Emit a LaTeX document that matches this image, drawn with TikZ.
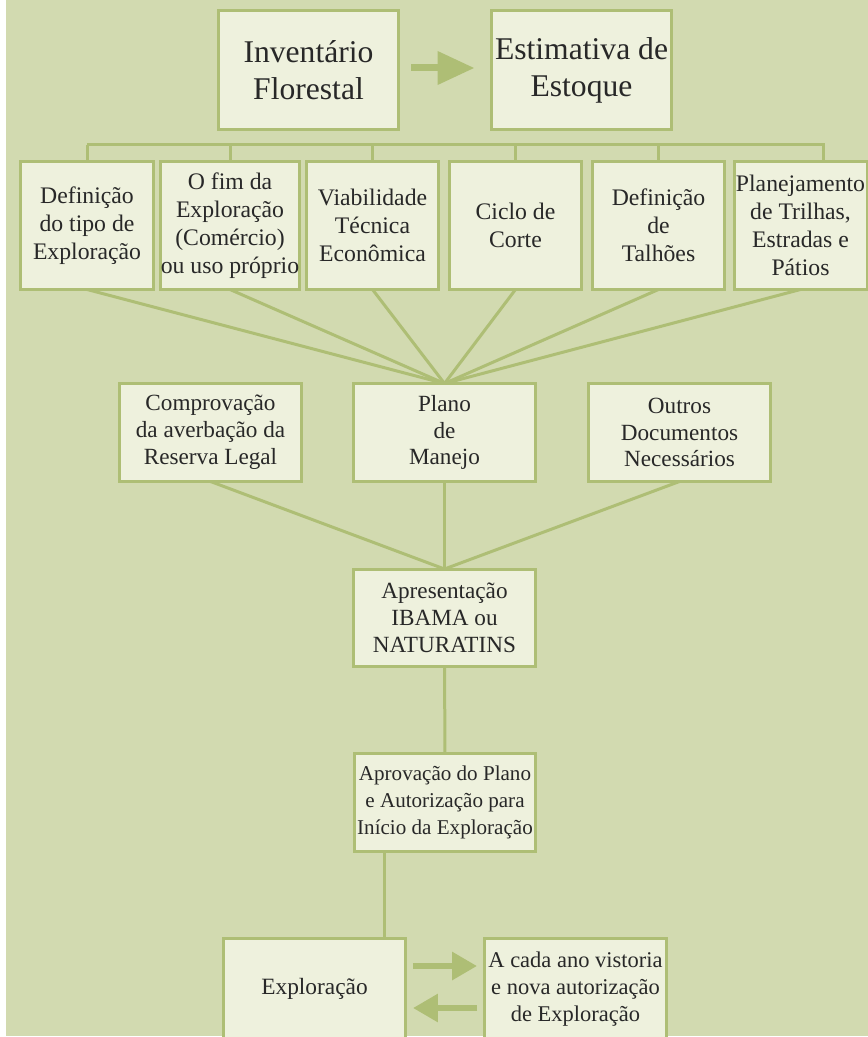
\documentclass[tikz,border=0pt]{standalone}
\usepackage{fontspec}
\setmainfont{Liberation Serif}
\definecolor{mossbg}{RGB}{210,218,176}
\definecolor{mossfill}{RGB}{238,241,221}
\definecolor{mossline}{RGB}{174,190,117}
\definecolor{inkgray}{RGB}{40,40,40}
\usetikzlibrary{arrows.meta}
\tikzset{
  box/.style={draw=mossline, fill=mossfill, line width=0.06cm, inner sep=0pt,
    outer sep=0pt, align=center, text=inkgray},
  topbox/.style={box, minimum width=3.62cm, minimum height=2.38cm,
    font=\fontsize{18pt}{21pt}\selectfont},
  rowbox/.style={box, minimum width=2.66cm, minimum height=2.56cm,
    font=\fontsize{13.5pt}{16pt}\selectfont},
  midbox/.style={box, minimum width=3.64cm, minimum height=1.96cm,
    font=\fontsize{13.2pt}{15.3pt}\selectfont},
  lowbox/.style={box, minimum width=3.64cm, minimum height=2.02cm,
    font=\fontsize{12.8pt}{15.3pt}\selectfont},
  link/.style={draw=mossline, line width=0.06cm},
  fatarrow/.style={draw=mossline, line width=0.14cm,
    -{Triangle[width=0.64cm,length=0.74cm]}, shorten <=0.25cm, shorten >=0.33cm},
  slimarrow/.style={draw=mossline, line width=0.12cm,
    -{Triangle[width=0.54cm,length=0.5cm]}, shorten <=0.15cm, shorten >=0.15cm}
}

\begin{document}
\begin{tikzpicture}[x=0.02cm, y=-0.02cm]
  \clip (0,0) rectangle (868,1037);
  \fill[mossbg] (6,0) rectangle (868,1036);

  % inventory and stock
  \node[topbox] (inv) at (308.5,70) {Inventário\\Florestal};
  \node[topbox] (est) at (581.5,70) {Estimativa de\\Estoque};
  \draw[fatarrow] (inv.east |- 0,68) -- (est.west |- 0,68);

  % planning steps
  \foreach \i/\x/\t in {1/87/{Definição\\do tipo de\\Exploração},
      2/230/{O fim da\\Exploração\\(Comércio)\\ou uso próprio},
      3/372.5/{Viabilidade\\Técnica\\Econômica},
      4/515.5/{Ciclo de\\Corte},
      5/658.5/{Definição\\de\\Talhões},
      6/800.5/{Planejamento\\de Trilhas,\\Estradas e\\Pátios}} {
    \node[rowbox] (r\i) at (\x,225.5) {\t};
  }
  \coordinate (brk) at (823,145);
  \draw[link] (r1.north |- brk) -- (brk) -- (r6.north -| brk);
  \foreach \i in {1,...,5}
    \draw[link] (r\i.north) -- (r\i.north |- brk);

  % documents
  \node[midbox] (comp) at (210.5,432.5) {Comprovação\\da averbação da\\Reserva Legal};
  \node[midbox] (plano) at (444.5,432.5) {Plano\\de\\Manejo};
  \node[midbox] (outros) at (679.5,432.5) {Outros\\Documentos\\Necessários};
  \foreach \i in {1,...,6}
    \draw[link] (r\i.south) -- (plano.north);

  \node[midbox] (apres) at (444.5,618) {Apresentação\\IBAMA ou\\NATURATINS};
  \foreach \n in {comp,plano,outros}
    \draw[link] (\n.south) -- (apres.north);

  \node[midbox, font=\fontsize{12pt}{15.5pt}\selectfont] (aprov) at (445,802.5)
    {Aprovação do Plano\\e Autorização para\\Início da Exploração};
  \draw[link] (apres.south) -- (aprov.north);

  % exploration loop
  \node[lowbox, font=\fontsize{13.3pt}{15.3pt}\selectfont] (expl) at (314.5,989) {Exploração};
  \node[lowbox] (vis) at (575.5,989) {A cada ano vistoria\\e nova autorização\\de Exploração};
  \draw[link] (aprov.south -| 384,0) -- (expl.north -| 384,0);
  \draw[slimarrow] (expl.east |- 0,966) -- (vis.west |- 0,966);
  \draw[slimarrow] (vis.west |- 0,1008) -- (expl.east |- 0,1008);
\end{tikzpicture}
\end{document}
